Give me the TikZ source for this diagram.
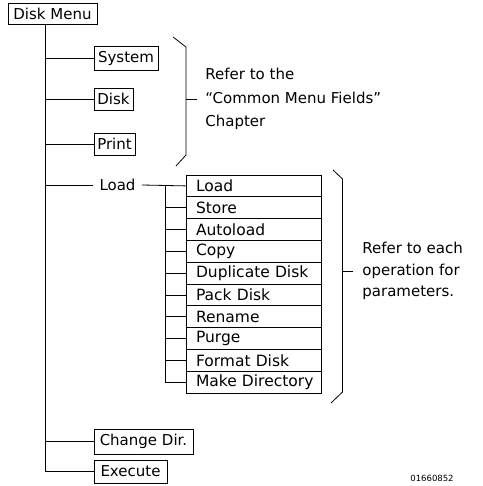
\documentclass[tikz,border=0pt]{standalone}
\usepackage{fontspec}
\setmainfont{DejaVu Sans}
\begin{document}
\begin{tikzpicture}[x=1pt,y=-1pt,line width=0.8pt,
  every node/.style={font=\fontsize{15}{17}\selectfont},
  menubox/.style={draw,inner sep=0pt,minimum height=#1},
  listbox/.style={draw,inner sep=0pt,minimum width=135pt,minimum height=21.8pt,
    text width=127pt,align=left,font=\fontsize{15.5}{17}\selectfont},
  note/.style={align=left,anchor=west,inner sep=0pt}]
\useasboundingbox (0,0) rectangle (482,486);
% top menu
\node[menubox=21pt,minimum width=89pt] (dm) at (52.5,13.5) {Disk Menu};
\coordinate (trunk) at (45.5,24);
\node[menubox=24pt,minimum width=64pt] (sys) at (126,58) {System};
\node[menubox=22pt,minimum width=39pt] (disk) at (113.5,99) {Disk};
\node[menubox=22pt,minimum width=41pt] (prt) at (114.5,144) {Print};
\node[inner sep=0pt] (load) at (117.5,185) {Load};
\node[menubox=25pt,minimum width=99pt] (cdir) at (143.5,441.5) {Change Dir.};
\node[menubox=23pt,minimum width=73pt] (exec) at (130.5,471.5) {Execute};
% list
\foreach \i/\t in {1/Load,2/Store,3/Autoload,4/Copy,5/Duplicate Disk,6/Pack Disk,7/Rename,8/Purge,9/Format Disk,10/Make Directory}{
  \node[listbox] (l\i) at (253.5,{175+21.8*(\i-0.5)}) {\hspace*{6pt}\t};
}
% trunk connectors
\draw (trunk) |- (exec.west);
\draw (trunk |- sys.west) -- (sys.west);
\draw (trunk |- disk.west) -- (disk.west);
\draw (trunk |- prt.west) -- (prt.west);
\draw (trunk |- cdir.west) -- (cdir.west);
\draw (trunk |- load.west) -- ([xshift=-6pt]load.west);
\draw ([xshift=6pt]load.east) -- (l1.west);
\coordinate (sub) at (165.5,185.9);
\draw (sub) |- (l10.west);
\foreach \i in {2,...,9}{\draw (sub |- l\i.west) -- (l\i.west);}
% bracket 1
\coordinate (b1a) at (173,37);
\coordinate (b1b) at (186,47);
\coordinate (b1c) at (186,155);
\coordinate (b1d) at (176,166);
\coordinate (b1m) at (186,99);
\draw (b1a) -- (b1b) -- (b1c) -- (b1d);
\node[note,font=\fontsize{15}{23.5}\selectfont] (n1) at (205,99) {Refer to the\\“Common Menu Fields”\\Chapter};
\draw (b1m) -- ([xshift=-8pt]n1.west);
% bracket 2
\coordinate (b2a) at (333,170);
\coordinate (b2b) at (342.5,179);
\coordinate (b2c) at (342.5,392);
\coordinate (b2d) at (331,403);
\coordinate (b2m) at (342.5,271);
\draw (b2a) -- (b2b) -- (b2c) -- (b2d);
\node[note,font=\fontsize{15}{21.5}\selectfont] (n2) at (362,271) {Refer to each\\operation for\\parameters.};
\draw (b2m) -- ([xshift=-9pt]n2.west);
% figure code
\node[inner sep=0pt,font=\fontsize{8.5}{10}\selectfont] (code) at (432,478) {01660852};
\end{tikzpicture}
\end{document}
